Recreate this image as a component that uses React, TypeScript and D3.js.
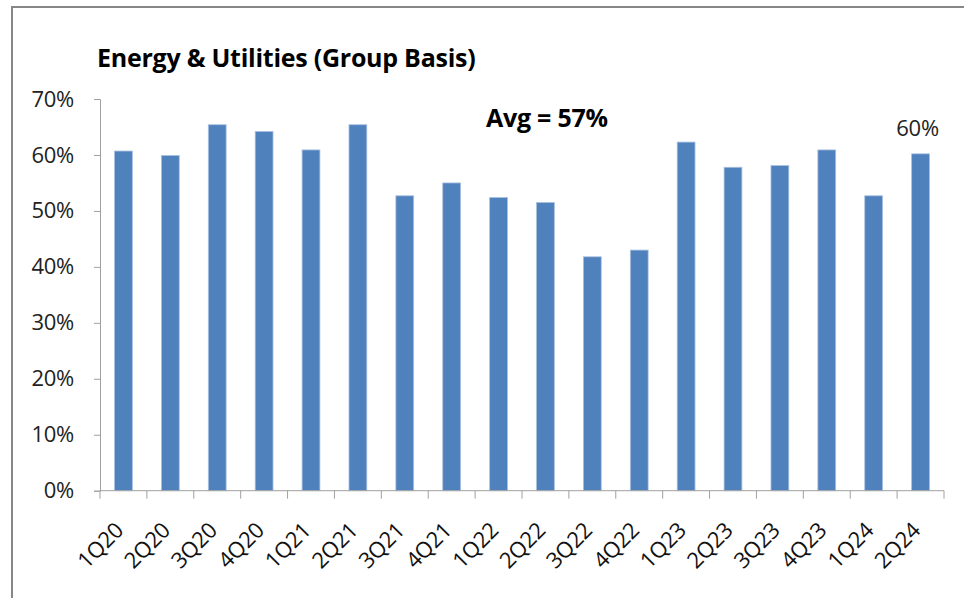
import React, { useEffect, useRef } from 'react';
import * as d3 from 'd3';

const quarters = ['1Q20', '2Q20', '3Q20', '4Q20', '1Q21', '2Q21', '3Q21', '4Q21', '1Q22',
  '2Q22', '3Q22', '4Q22', '1Q23', '2Q23', '3Q23', '4Q23', '1Q24', '2Q24'];
const shares = [60.7, 59.9, 65.4, 64.2, 60.9, 65.4, 52.7, 55.0, 52.4,
  51.5, 41.8, 43.0, 62.3, 57.8, 58.1, 60.9, 52.7, 60.2];
const yTicks = [0, 10, 20, 30, 40, 50, 60, 70];
const title = 'Energy & Utilities (Group Basis)';
const avgLabel = 'Avg = 57%';
const lastLabel = '60%';

const W = 964;
const H = 598;
const font = '"Open Sans", sans-serif';

export default function App() {
  const ref = useRef<SVGSVGElement>(null);

  useEffect(() => {
    document.body.style.margin = '0';
    const svg = d3.select(ref.current);
    svg.selectAll('*').remove();

    // chart frame
    svg.append('rect')
      .attr('x', 12).attr('y', 7)
      .attr('width', W + 10).attr('height', H + 10)
      .attr('fill', '#fff')
      .attr('stroke', '#878787')
      .attr('stroke-width', 2);

    const x = d3.scaleBand<string>()
      .domain(quarters)
      .range([100, 944])
      .paddingInner(0.62)
      .paddingOuter(0.31);

    const y = d3.scaleLinear()
      .domain([0, 70])
      .range([490.7, 99]);

    svg.append('text')
      .attr('x', 97).attr('y', 67)
      .attr('font-family', font)
      .attr('font-weight', 'bold')
      .attr('font-size', 25)
      .attr('letter-spacing', -0.25)
      .attr('fill', '#000')
      .text(title);

    // y axis
    const yAxis = svg.append('g')
      .attr('transform', 'translate(100,0)')
      .call(d3.axisLeft(y).tickValues(yTicks).tickSize(6).tickPadding(20)
        .tickFormat(d => d + '%'));
    yAxis.select('.domain').attr('stroke', '#a0a0a0');
    yAxis.selectAll('.tick line').attr('stroke', '#a0a0a0');
    yAxis.selectAll('.tick text')
      .attr('font-family', font)
      .attr('font-size', 22)
      .attr('letter-spacing', -0.3)
      .attr('fill', '#222');

    // bars
    svg.append('g')
      .selectAll('rect')
      .data(quarters)
      .join('rect')
      .attr('x', d => x(d)!)
      .attr('y', (d, i) => y(shares[i]))
      .attr('width', x.bandwidth())
      .attr('height', (d, i) => y(0) - y(shares[i]))
      .attr('fill', '#4f81bd')
      .attr('stroke', '#a8c0e0')
      .attr('stroke-width', 0.8);

    // x axis line and boundary ticks
    const x0 = x.range()[0];
    const step = x.step();
    svg.append('line')
      .attr('x1', x0).attr('x2', x.range()[1])
      .attr('y1', y(0)).attr('y2', y(0))
      .attr('stroke', '#a0a0a0');
    svg.append('g')
      .selectAll('line')
      .data(d3.range(quarters.length + 1))
      .join('line')
      .attr('x1', i => x0 + i * step)
      .attr('x2', i => x0 + i * step)
      .attr('y1', y(0))
      .attr('y2', y(0) + 8)
      .attr('stroke', '#a0a0a0');

    svg.append('g')
      .selectAll('text')
      .data(quarters)
      .join('text')
      .attr('transform', d => `translate(${x(d)! + x.bandwidth() / 2 - 10},${y(0) + 30}) rotate(-45)`)
      .attr('text-anchor', 'end')
      .attr('dy', '0.72em')
      .attr('font-family', font)
      .attr('font-size', 22)
      .attr('letter-spacing', -0.3)
      .attr('fill', '#111')
      .text(d => d);

    // annotations
    svg.append('text')
      .attr('x', 486).attr('y', 127)
      .attr('font-family', font)
      .attr('font-weight', 'bold')
      .attr('font-size', 25)
      .attr('letter-spacing', -0.25)
      .attr('fill', '#000')
      .text(avgLabel);

    const last = quarters[quarters.length - 1];
    svg.append('text')
      .attr('x', x(last)! + x.bandwidth() / 2 - 3)
      .attr('y', y(shares[shares.length - 1]) - 18)
      .attr('text-anchor', 'middle')
      .attr('font-family', font)
      .attr('font-size', 22)
      .attr('letter-spacing', -0.3)
      .attr('fill', '#222')
      .text(lastLabel);
  }, []);

  return (
    <svg ref={ref} width={W} height={H}
      style={{ position: 'absolute', left: 0, top: 0, display: 'block' }} />
  );
}
